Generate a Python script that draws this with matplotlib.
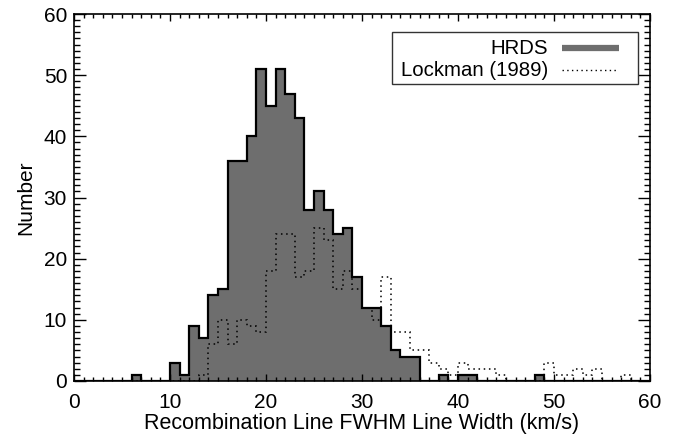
import numpy as np
import matplotlib
matplotlib.use("Agg")
import matplotlib.pyplot as plt
from matplotlib.patches import Rectangle
from matplotlib.lines import Line2D
from matplotlib.ticker import MultipleLocator

plt.rcParams['font.family'] = ['Liberation Sans', 'DejaVu Sans']

# 1 km/s bins from 0 to 60
bin_edges = np.arange(0, 61, 1)

# HRDS counts per bin (bin start -> count)
hrds_bins = [6, 10, 11, 12, 13, 14, 15, 16, 17, 18, 19, 20, 21, 22, 23, 24, 25, 26,
             27, 28, 29, 30, 31, 32, 33, 34, 35, 38, 40, 41, 48]
hrds_vals = [1, 3, 1, 9, 7, 14, 15, 36, 36, 40, 51, 45, 51, 47, 43, 28, 31, 28,
             24, 25, 17, 12, 12, 9, 5, 4, 4, 1, 1, 1, 1]

# Lockman (1989) counts per bin
lock_bins = [13, 14, 15, 16, 17, 18, 19, 20, 21, 22, 23, 24, 25, 26, 27, 28, 29, 30,
             31, 32, 33, 34, 35, 36, 37, 38, 39, 40, 41, 42, 43, 44, 49, 50, 51, 52,
             53, 54, 57]
lock_vals = [1, 6, 10, 6, 10, 9, 8, 18, 24, 24, 17, 18, 25, 23, 15, 18, 15, 12,
             10, 17, 8, 8, 5, 5, 3, 2, 1, 3, 2, 2, 2, 1, 3, 1, 1, 2,
             1, 2, 1]

hrds = np.zeros(60)
hrds[hrds_bins] = hrds_vals
lockman = np.zeros(60)
lockman[lock_bins] = lock_vals

fig = plt.figure(figsize=(6.83, 4.37), dpi=100)
ax = fig.add_axes([74 / 683, 1 - 381 / 437, 576 / 683, 367 / 437])

gray = '#6e6e6e'
ax.stairs(hrds, bin_edges, fill=True, color=gray, lw=0)
ax.stairs(hrds, bin_edges, color='black', lw=1.6)
ax.stairs(lockman, bin_edges, color='black', lw=1.1, linestyle=(0, (1, 2.4)))

ax.set_xlim(0, 60)
ax.set_ylim(0, 60)
ax.xaxis.set_major_locator(MultipleLocator(10))
ax.xaxis.set_minor_locator(MultipleLocator(1))
ax.yaxis.set_major_locator(MultipleLocator(10))
ax.yaxis.set_minor_locator(MultipleLocator(1))
ax.tick_params(axis='both', which='both', direction='in', top=True, right=True,
               width=1.0, labelsize=15)
ax.tick_params(axis='x', which='major', length=5.3, pad=9)
ax.tick_params(axis='x', which='minor', length=2.7)
ax.tick_params(axis='y', which='major', length=8.3, pad=5)
ax.tick_params(axis='y', which='minor', length=4.0)
for s in ax.spines.values():
    s.set_linewidth(1.2)

ax.set_xlabel('Recombination Line FWHM Line Width (km/s)', fontsize=15.5, labelpad=0)
ax.set_ylabel('Number', fontsize=15, labelpad=6)

# legend box, drawn by hand so the labels sit right-aligned
tr = ax.transAxes
def ax_xy(px, py):
    return (px - 74) / 576, (381 - py) / 367

x0, y0 = ax_xy(392, 84)
x1, y1 = ax_xy(638, 32)
ax.add_patch(Rectangle((x0, y0), x1 - x0, y1 - y0, transform=tr, fill=True,
                       facecolor='white', edgecolor='#333333', lw=1.0, zorder=5))
tx, ty1 = ax_xy(548, 48)
_, ty2 = ax_xy(548, 70)
ax.text(tx, ty1, 'HRDS', transform=tr, ha='right', va='center', fontsize=14.7, zorder=6)
ax.text(tx, ty2, 'Lockman (1989)', transform=tr, ha='right', va='center',
        fontsize=14.7, zorder=6)
hx0, _ = ax_xy(562, 0)
hx1, _ = ax_xy(619, 0)
ax.add_line(Line2D([hx0, hx1], [ty1, ty1], transform=tr, color=gray, lw=4.5,
                   solid_capstyle='butt', zorder=6))
ax.add_line(Line2D([hx0, hx1 - 0.005], [ty2, ty2], transform=tr, color='black', lw=1.0,
                   linestyle=(0, (1, 2.4)), zorder=6))

fig.savefig('out.png', dpi=100)
